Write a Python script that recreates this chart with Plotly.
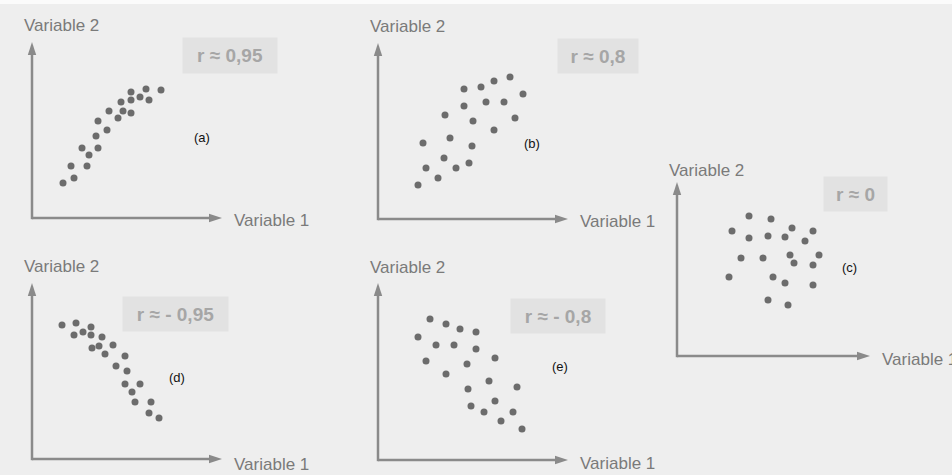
import plotly.graph_objects as go

FIG_W, FIG_H = 952, 475

# ---- data: one list pair per panel (units: 1 unit = 10 px along each axis) ----
a_x = [3.1, 4.2, 3.9, 5.5, 5.7, 5.0, 6.6, 6.4, 7.5, 6.6, 8.6, 7.7, 9.1, 9.9, 8.9, 9.9, 9.9, 10.8, 11.7, 11.4, 12.9]
a_y = [3.5, 4.0, 5.2, 5.2, 6.3, 7.0, 7.0, 8.2, 8.8, 9.7, 10.0, 10.7, 10.7, 10.5, 11.6, 11.8, 12.6, 12.1, 11.8, 12.9, 12.8]

b_x = [4.0, 6.0, 4.8, 7.8, 9.1, 6.6, 4.5, 7.2, 9.4, 11.6, 6.7, 9.5, 13.7, 8.6, 10.8, 12.6, 14.5, 8.6, 10.3, 11.6, 13.2]
b_y = [3.4, 4.1, 5.1, 5.1, 5.6, 6.1, 7.6, 8.1, 7.3, 8.9, 10.4, 9.8, 10.1, 11.3, 11.7, 11.7, 12.5, 13.0, 13.2, 13.8, 14.2]

c_x = [7.2, 9.4, 5.5, 7.2, 9.1, 10.8, 11.5, 13.6, 12.8, 6.4, 8.6, 11.3, 11.7, 14.2, 13.6, 5.2, 9.6, 10.8, 13.6, 9.1, 11.1]
c_y = [14.0, 13.7, 12.5, 11.8, 12.0, 11.9, 12.8, 12.5, 11.5, 9.8, 9.8, 10.1, 9.3, 10.1, 9.1, 7.9, 7.9, 7.3, 7.1, 5.6, 5.1]

d_x = [3.0, 4.4, 4.2, 5.1, 5.9, 5.9, 7.0, 6.0, 6.7, 7.3, 8.1, 9.3, 8.4, 9.5, 9.3, 10.8, 10.0, 10.3, 11.9, 11.7, 12.7]
d_y = [13.4, 13.6, 12.4, 12.7, 13.2, 12.4, 12.2, 11.1, 11.3, 10.5, 11.4, 10.3, 9.3, 8.8, 7.5, 7.5, 6.7, 5.7, 5.7, 4.6, 4.1]

e_x = [5.2, 6.8, 8.2, 9.8, 4.0, 5.8, 7.6, 9.8, 4.8, 8.9, 11.7, 6.8, 11.1, 13.9, 9.0, 11.7, 9.3, 10.6, 13.5, 12.3, 14.4]
e_y = [14.1, 13.6, 13.1, 12.8, 12.3, 11.5, 11.5, 11.1, 9.9, 9.6, 10.2, 8.6, 7.9, 7.3, 7.1, 5.9, 5.4, 4.8, 4.8, 3.9, 3.1]

tags = ["(a)", "(b)", "(c)", "(d)", "(e)"]
r_labels = ["r ≈ 0,95", "r ≈ 0,8", "r ≈ 0", "r ≈ - 0,95", "r ≈ - 0,8"]
x_title = "Variable 1"
y_title = "Variable 2"

# ---- layout of each panel (pixel geometry) ----
panels = [
    dict(x=a_x, y=a_y, origin=(32, 218), size=(190, 176), tag_at=(17.0, 8.1),
         rbox=(230, 55, 94, 35), ytitle_shift=16, xtitle_shift=-2),
    dict(x=b_x, y=b_y, origin=(378, 219), size=(190, 176), tag_at=(15.4, 7.6),
         rbox=(598, 56, 80, 34), ytitle_shift=16, xtitle_shift=-2),
    dict(x=c_x, y=c_y, origin=(677, 356), size=(193, 174), tag_at=(17.2, 8.9),
         rbox=(855, 194, 63, 34), ytitle_shift=12, xtitle_shift=-3),
    dict(x=d_x, y=d_y, origin=(32, 459), size=(190, 176), tag_at=(14.5, 8.2),
         rbox=(175, 314, 105, 34), ytitle_shift=17, xtitle_shift=-5),
    dict(x=e_x, y=e_y, origin=(378, 460), size=(190, 177), tag_at=(18.2, 9.4),
         rbox=(558, 316, 94, 34), ytitle_shift=16, xtitle_shift=-3),
]

PAD = 6            # px of slack around each axis frame
AXIS_COL = "#8a8a8a"
DOT_COL = "#6c6c6c"
TITLE_COL = "#7a7a7a"
FONT = "Liberation Sans, Arial, sans-serif"

fig = go.Figure()
layout = dict(
    width=FIG_W, height=FIG_H,
    margin=dict(l=0, r=0, t=0, b=0),
    paper_bgcolor="#eeeeee", plot_bgcolor="rgba(0,0,0,0)",
    showlegend=False,
)
shapes = [dict(type="rect", xref="paper", yref="paper", x0=0, x1=1,
               y0=1 - 4 / FIG_H, y1=1, fillcolor="#fbfbfb", line_width=0, layer="below")]
annotations = []

for i, p in enumerate(panels):
    n = i + 1
    xa, ya = f"xaxis{n}", f"yaxis{n}"
    xr, yr = f"x{n}", f"y{n}"
    ox, oy = p["origin"]
    w, h = p["size"]
    xmax, ymax = w / 10, h / 10
    pu = PAD / 10

    layout[xa] = dict(domain=[(ox - PAD) / FIG_W, (ox + w + PAD) / FIG_W],
                      range=[-pu, xmax + pu], visible=False, anchor=yr)
    layout[ya] = dict(domain=[(FIG_H - oy - PAD) / FIG_H, (FIG_H - oy + h + PAD) / FIG_H],
                      range=[-pu, ymax + pu], visible=False, anchor=xr)

    fig.add_trace(go.Scatter(
        x=p["x"], y=p["y"], mode="markers", xaxis=xr, yaxis=yr,
        marker=dict(size=7, color=DOT_COL, line_width=0),
        cliponaxis=False, hoverinfo="skip",
    ))

    # axis lines with arrow heads
    head, half = 1.3, 0.42
    shapes += [
        dict(type="line", xref=xr, yref=yr, x0=0, y0=0, x1=xmax - head + 0.2, y1=0,
             line=dict(color=AXIS_COL, width=2.5)),
        dict(type="line", xref=xr, yref=yr, x0=0, y0=-0.12, x1=0, y1=ymax - head + 0.2,
             line=dict(color=AXIS_COL, width=2.5)),
        dict(type="path", xref=xr, yref=yr,
             path=f"M {xmax},0 L {xmax - head},{half} L {xmax - head},{-half} Z",
             fillcolor=AXIS_COL, line_width=0),
        dict(type="path", xref=xr, yref=yr,
             path=f"M 0,{ymax} L {half},{ymax - head} L {-half},{ymax - head} Z",
             fillcolor=AXIS_COL, line_width=0),
    ]

    annotations += [
        dict(xref=xr, yref=yr, x=0, y=ymax, xanchor="left", yanchor="middle",
             xshift=-10, yshift=p["ytitle_shift"], text=y_title, showarrow=False,
             font=dict(family=FONT, size=17, color=TITLE_COL)),
        dict(xref=xr, yref=yr, x=xmax, y=0, xanchor="left", yanchor="middle",
             xshift=10, yshift=p["xtitle_shift"], text=x_title, showarrow=False,
             font=dict(family=FONT, size=17, color=TITLE_COL)),
        dict(xref=xr, yref=yr, x=p["tag_at"][0], y=p["tag_at"][1],
             xanchor="center", yanchor="middle", text=tags[i], showarrow=False,
             font=dict(family=FONT, size=13, color="#111111")),
    ]
    cx, cy, bw, bh = p["rbox"]
    annotations.append(dict(
        xref="paper", yref="paper", x=cx / FIG_W, y=1 - cy / FIG_H,
        xanchor="center", yanchor="middle", showarrow=False,
        text=f"<b>{r_labels[i]}</b>", width=bw, height=bh, borderpad=0,
        bgcolor="#e2e2e2", align="center", valign="middle",
        font=dict(family=FONT, size=19, color="#a6a6a6"),
    ))

layout["shapes"] = shapes
layout["annotations"] = annotations
fig.update_layout(**layout)
fig.write_html("out.html")
